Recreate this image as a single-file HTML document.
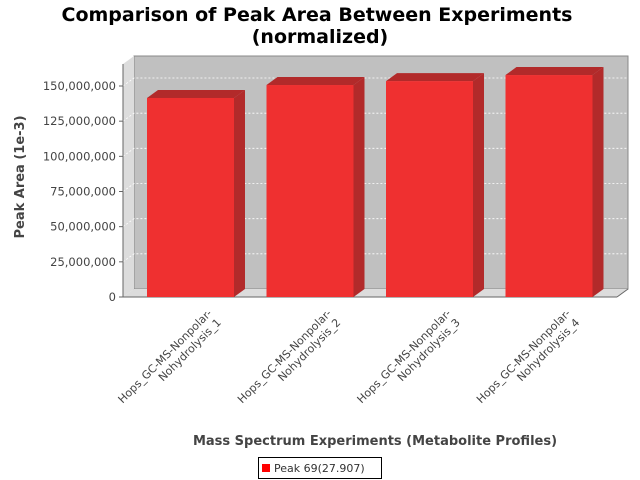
<!DOCTYPE html>
<html><head><meta charset="utf-8"><style>
body{margin:0;background:#fff;}
svg{display:block;font-family:"DejaVu Sans","Liberation Sans",sans-serif;}
</style></head><body>
<svg id="c" width="640" height="480">
<text x="317" y="21" text-anchor="middle" font-size="19" font-weight="bold">Comparison of Peak Area Between Experiments</text>
<text x="320" y="43" text-anchor="middle" font-size="19" font-weight="bold">(normalized)</text>
<g id="plot"></g>
<text x="375" y="445" text-anchor="middle" font-size="13" font-weight="bold" fill="#444">Mass Spectrum Experiments (Metabolite Profiles)</text>
<text transform="translate(24,177) rotate(-90)" text-anchor="middle" font-size="13" font-weight="bold" fill="#444">Peak Area (1e-3)</text>
<g>
<rect x="258.5" y="457.5" width="123" height="21" fill="#fff" stroke="#000"/>
<rect x="262" y="464" width="8" height="8" fill="#f00"/>
<text x="274" y="472" font-size="11" fill="#333">Peak 69(27.907)</text>
</g>
</svg>
<script>
const categories=["Hops_GC-MS-Nonpolar-|Nohydrolysis_1","Hops_GC-MS-Nonpolar-|Nohydrolysis_2","Hops_GC-MS-Nonpolar-|Nohydrolysis_3","Hops_GC-MS-Nonpolar-|Nohydrolysis_4"];
const values=[141500000,150700000,153500000,157800000];
const yTicks=[0,25000000,50000000,75000000,100000000,125000000,150000000];
const NS="http://www.w3.org/2000/svg";
const g=document.getElementById('plot');
const L=123,R=617,B=297,DX=11,DY=8,yMax=150000000,yTop=86;
function y(v){return B-(v/yMax)*(B-yTop);}
function mk(t,a){const e=document.createElementNS(NS,t);for(const k in a)e.setAttribute(k,a[k]);g.appendChild(e);return e;}
let e;
e=mk('polygon',{points:`${L+DX},${B-DY} ${R+DX},${B-DY} ${R+DX},56 ${L+DX},56`,fill:'#c0c0c0',stroke:'#888'});


e=mk('polygon',{points:`${L},${B} ${L+DX},${B-DY} ${L+DX},56 ${L},64`,fill:'#dcdcdc'});


e=mk('polygon',{points:`${L},${B} ${R},${B} ${R+DX},${B-DY} ${L+DX},${B-DY}`,fill:'#dcdcdc'});


yTicks.forEach(t=>{
 const yy=y(t);
 if(t>0){e=mk('polyline',{points:`${L},${yy} ${L+DX},${yy-DY} ${R+DX},${yy-DY}`,fill:'none',stroke:'#fff','stroke-dasharray':'2,2','stroke-width':0.8});
 
 }
 e=mk('line',{x1:L-4,y1:yy,x2:L,y2:yy,stroke:'#666'});
 
 
 e=mk('text',{x:L-7,y:yy+4,'text-anchor':'end','font-size':11.5,fill:'#444'});
 e.textContent=t.toLocaleString('en-US');
 
 
});
e=mk('line',{x1:L,y1:64,x2:L,y2:B,stroke:'#666'});


e=mk('line',{x1:L,y1:B,x2:R,y2:B,stroke:'#666'});


e=mk('line',{x1:R,y1:B,x2:R+DX,y2:B-DY,stroke:'#666'});


const n=categories.length,step=119.5,bw=87,c0=190.5;
categories.forEach((c,i)=>{
 const cx=c0+step*i;
 const x0=cx-bw/2,x1=cx+bw/2,yt=y(values[i]);
 e=mk('polygon',{points:`${x0},${yt} ${x0+DX},${yt-DY} ${x1+DX},${yt-DY} ${x1},${yt}`,fill:'#b22a2a'});
 
 
 e=mk('polygon',{points:`${x1},${yt} ${x1+DX},${yt-DY} ${x1+DX},${B-DY} ${x1},${B}`,fill:'#b22a2a'});
 
 
 e=mk('rect',{x:x0,y:yt,width:bw,height:B-yt,fill:'#ef3030'});
 
 
 const parts=c.split('|');
 e=mk('text',{transform:`translate(${cx+22},${B+17}) rotate(-45)`,'text-anchor':'end','font-size':11,fill:'#444'});
 
 
 parts.forEach((p,j)=>{const s=document.createElementNS(NS,'tspan');s.setAttribute('x',0);s.setAttribute('dy',j?13:0);s.textContent=p;e.appendChild(s);});
});
</script>
</body></html>
